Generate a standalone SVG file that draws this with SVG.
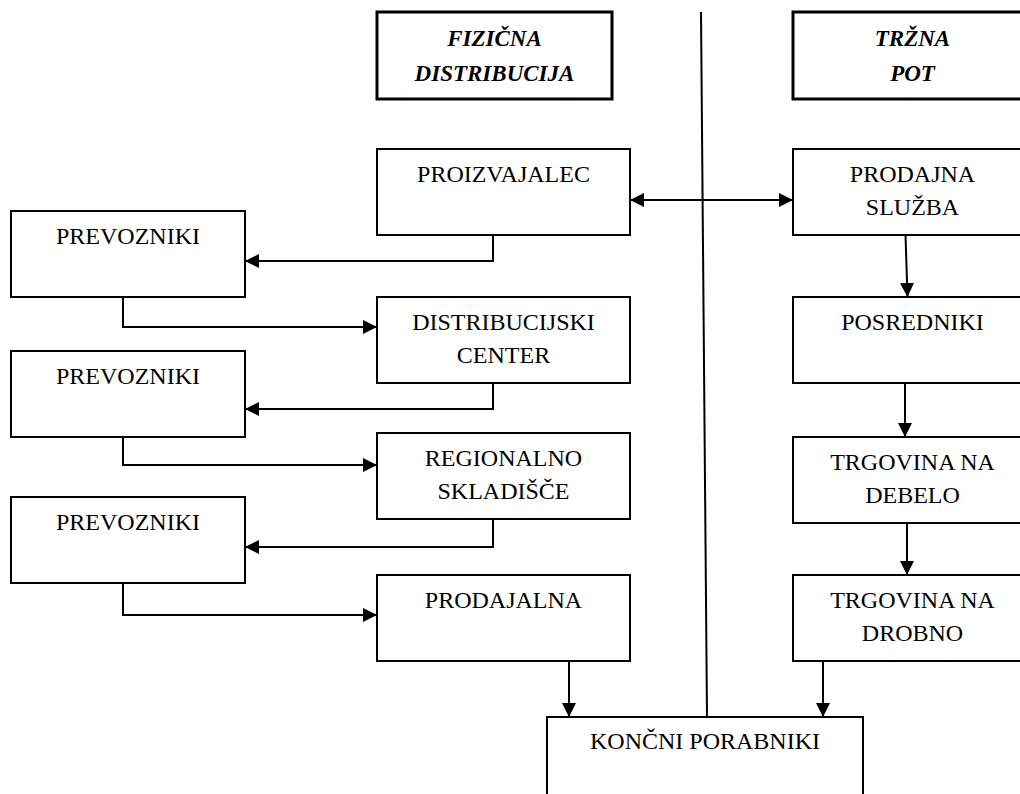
<svg xmlns="http://www.w3.org/2000/svg" width="1020" height="794" viewBox="0 0 1020 794">
<style>
.box{fill:#fff;stroke:#000;stroke-width:2}
.hdr{fill:#fff;stroke:#000;stroke-width:3}
.t{font-family:"Liberation Serif","Times New Roman",serif;font-size:24px;fill:#000;text-anchor:middle}
.h{font-family:"Liberation Serif","Times New Roman",serif;font-size:23px;font-weight:bold;font-style:italic;fill:#000;text-anchor:middle}
.c{fill:none;stroke:#000;stroke-width:2}
</style>
<defs>
<marker id="ah" markerUnits="userSpaceOnUse" markerWidth="14" markerHeight="14" viewBox="0 0 14 14" refX="14" refY="7" orient="auto-start-reverse">
<path d="M0,0 L14,7 L0,14 Z" fill="#000"/>
</marker>
</defs>
<rect width="1020" height="794" fill="#fff"/>
<g id="h-fizicna"><rect class="hdr" x="377" y="12" width="235" height="87"/><text class="h" x="494.5" y="46">FIZIČNA</text><text class="h" x="494.5" y="81">DISTRIBUCIJA</text></g>
<g id="h-trzna"><rect class="hdr" x="793" y="12" width="240" height="87"/><text class="h" x="912.5" y="46">TRŽNA</text><text class="h" x="912.5" y="81">POT</text></g>
<g id="proizvajalec"><rect class="box" x="377" y="149" width="253" height="86"/><text class="t" x="503.5" y="182">PROIZVAJALEC</text></g>
<g id="distrib"><rect class="box" x="377" y="297" width="253" height="86"/><text class="t" x="503.5" y="330">DISTRIBUCIJSKI</text><text class="t" x="503.5" y="363">CENTER</text></g>
<g id="regionalno"><rect class="box" x="377" y="433" width="253" height="86"/><text class="t" x="503.5" y="466">REGIONALNO</text><text class="t" x="503.5" y="499">SKLADIŠČE</text></g>
<g id="prodajalna"><rect class="box" x="377" y="575" width="253" height="86"/><text class="t" x="503.5" y="608">PRODAJALNA</text></g>
<g id="prev1"><rect class="box" x="11" y="211" width="234" height="86"/><text class="t" x="128" y="244">PREVOZNIKI</text></g>
<g id="prev2"><rect class="box" x="11" y="351" width="234" height="86"/><text class="t" x="128" y="384">PREVOZNIKI</text></g>
<g id="prev3"><rect class="box" x="11" y="497" width="234" height="86"/><text class="t" x="128" y="530">PREVOZNIKI</text></g>
<g id="prodajna"><rect class="box" x="793" y="149" width="240" height="86"/><text class="t" x="912.5" y="182">PRODAJNA</text><text class="t" x="912.5" y="215">SLUŽBA</text></g>
<g id="posredniki"><rect class="box" x="793" y="297" width="240" height="86"/><text class="t" x="912.5" y="330">POSREDNIKI</text></g>
<g id="debelo"><rect class="box" x="793" y="437" width="240" height="86"/><text class="t" x="912.5" y="470">TRGOVINA NA</text><text class="t" x="912.5" y="503">DEBELO</text></g>
<g id="drobno"><rect class="box" x="793" y="575" width="240" height="86"/><text class="t" x="912.5" y="608">TRGOVINA NA</text><text class="t" x="912.5" y="641">DROBNO</text></g>
<g id="koncni"><rect class="box" x="547" y="717" width="316" height="90"/><text class="t" x="705" y="749">KONČNI PORABNIKI</text></g>
<g id="connectors">
<line class="c" x1="701" y1="12" x2="707" y2="717"/>
<line class="c" x1="630" y1="200" x2="793" y2="200" marker-start="url(#ah)" marker-end="url(#ah)"/>
<path class="c" d="M493,235 V261 H245" marker-end="url(#ah)"/>
<path class="c" d="M123,297 V327 H377" marker-end="url(#ah)"/>
<path class="c" d="M493,383 V409 H245" marker-end="url(#ah)"/>
<path class="c" d="M123,437 V465 H377" marker-end="url(#ah)"/>
<path class="c" d="M493,519 V547 H245" marker-end="url(#ah)"/>
<path class="c" d="M123,583 V615 H377" marker-end="url(#ah)"/>
<path class="c" d="M569,661 V717" marker-end="url(#ah)"/>
<path class="c" d="M823,661 V717" marker-end="url(#ah)"/>
<path class="c" d="M905.5,235 L907.5,297" marker-end="url(#ah)"/>
<path class="c" d="M905,383 V437" marker-end="url(#ah)"/>
<path class="c" d="M907,523 V575" marker-end="url(#ah)"/>
</g>
</svg>
